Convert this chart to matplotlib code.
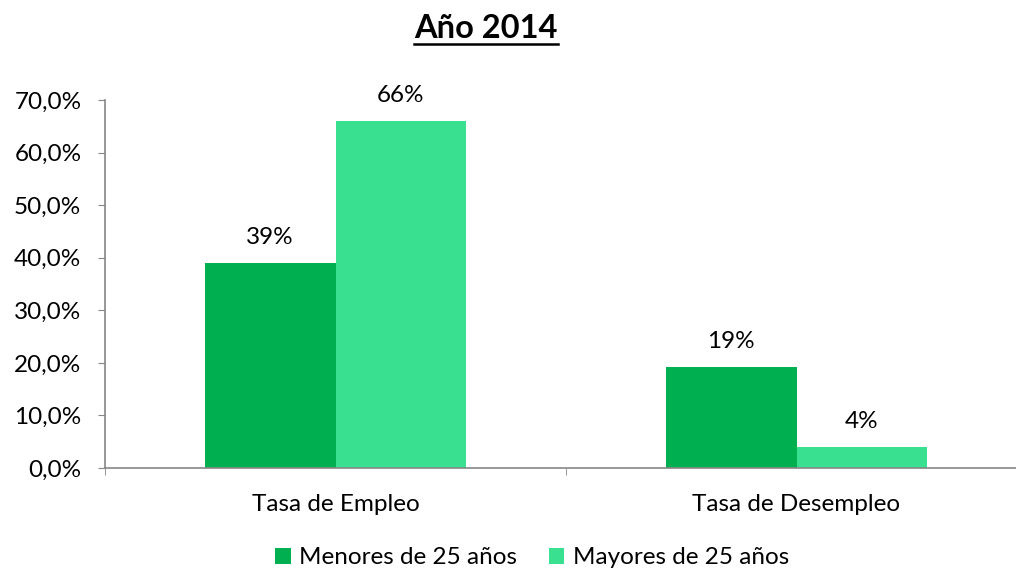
import matplotlib
matplotlib.use("Agg")
import matplotlib.pyplot as plt
from matplotlib.patches import Patch
from matplotlib.ticker import FuncFormatter
import numpy as np

categories = ["Tasa de Empleo", "Tasa de Desempleo"]
series_names = ["Menores de 25 años", "Mayores de 25 años"]
menores = [39.0, 19.2]
mayores = [66.0, 4.0]
labels_menores = ["39%", "19%"]
labels_mayores = ["66%", "4%"]
colors = ["#00B050", "#38E08F"]

plt.rcParams['font.family'] = ['Lato', 'DejaVu Sans']
FS = 17.5

fig = plt.figure(figsize=(10.16, 5.73), dpi=100)
ax = fig.add_axes([105/1016, 1-468/573, 922/1016, 368/573])

x = np.arange(len(categories))
w = 0.284
b1 = ax.bar(x - w/2, menores, w, color=colors[0])
b2 = ax.bar(x + w/2, mayores, w, color=colors[1])

for bars, labs in ((b1, labels_menores), (b2, labels_mayores)):
    for r, lab in zip(bars, labs):
        ax.text(r.get_x() + r.get_width()/2, r.get_height() + 2.8, lab,
                ha='center', va='bottom', fontsize=FS, color='#000000')

ax.set_xlim(-0.5, 1.5)
ax.set_ylim(0, 70)
ax.set_yticks(np.arange(0, 71, 10))
ax.yaxis.set_major_formatter(FuncFormatter(lambda v, p: f"{v:.1f}%".replace('.', ',')))
ax.set_xticks(x)
ax.set_xticklabels(categories)
ax.set_xticks([-0.5, 0.5, 1.5], minor=True)
ax.tick_params(axis='x', which='major', length=0, pad=19, labelsize=FS)
ax.tick_params(axis='x', which='minor', length=5, color='#868686')
ax.tick_params(axis='y', length=5, color='#868686', labelsize=FS, pad=12)

for s in ['top', 'right']:
    ax.spines[s].set_visible(False)
for s in ['left', 'bottom']:
    ax.spines[s].set_color('#868686')
    ax.spines[s].set_linewidth(1.2)

t = fig.text(486/1016, 1-28/573, "Año 2014", ha='center', va='center',
             fontsize=23.5, fontweight='bold')
fig.canvas.draw()
bb = t.get_window_extent()
fig.add_artist(plt.Line2D([bb.x0/1016, bb.x1/1016], [(573-44)/573, (573-44)/573],
                          transform=fig.transFigure, color='black', linewidth=1.8))

handles = [Patch(facecolor=c, label=n) for c, n in zip(colors, series_names)]
fig.legend(handles=handles, loc='center', bbox_to_anchor=(532/1016, 1-558/573),
           ncol=2, frameon=False, fontsize=FS, handlelength=0.65, handleheight=0.65,
           handletextpad=0.35, columnspacing=1.3)

fig.savefig("out.png", dpi=100)
